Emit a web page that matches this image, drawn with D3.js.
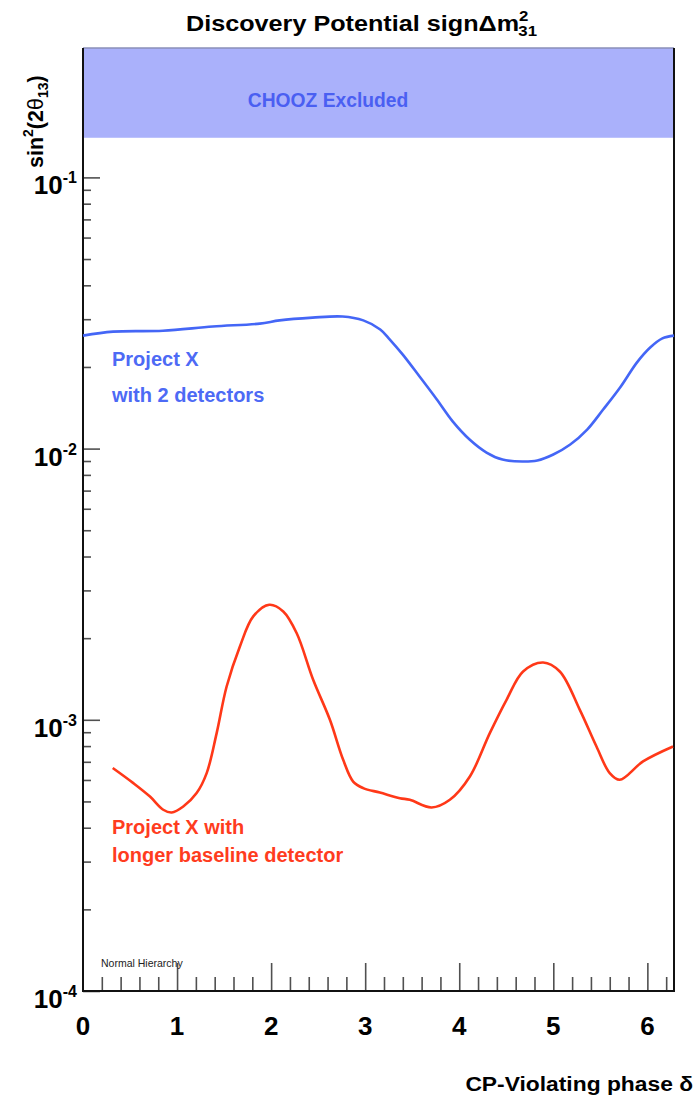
<!DOCTYPE html>
<html>
<head>
<meta charset="utf-8">
<script src="https://cdn.jsdelivr.net/npm/d3@7"></script>
<style>
  body { margin: 0; background: #fff; }
  svg { display: block; font-family: "Liberation Sans", Arial, Helvetica, sans-serif; }
</style>
</head>
<body>
<div id="chart"></div>
<script>
// Project X with 2 detectors (blue)
const deltaBlue = [0.00, 0.32, 0.85, 1.38, 1.88, 2.09, 2.44, 2.76, 2.98, 3.16, 3.26, 3.40, 3.58, 3.76, 3.93,
    4.11, 4.29, 4.46, 4.67, 4.83, 5.00, 5.18, 5.36, 5.53, 5.71, 5.89, 6.03, 6.16, 6.283];
const sinBlue = [0.0261, 0.0270, 0.0272, 0.0282, 0.0289, 0.0297, 0.0304, 0.0307, 0.0297, 0.0275, 0.0253, 0.0222, 0.0184, 0.0152, 0.0126,
    0.0108, 0.00967, 0.00911, 0.00896, 0.00904, 0.00951, 0.01035, 0.01175, 0.01393, 0.0168, 0.0208, 0.0236, 0.0255, 0.0261];

// Project X with longer baseline detector (red)
const deltaRed = [0.316, 0.535, 0.712, 0.853, 0.943, 1.066, 1.208, 1.315, 1.421, 1.527, 1.668, 1.81, 1.98, 2.129, 2.271,
    2.447, 2.625, 2.766, 2.872, 2.979, 3.156, 3.369, 3.475, 3.706, 3.90, 4.113, 4.325, 4.503, 4.679, 4.892,
    5.069, 5.282, 5.459, 5.60, 5.706, 5.954, 6.273];
const sinRed = [6.64e-4, 5.84e-4, 5.21e-4, 4.66e-4, 4.55e-4, 4.79e-4, 5.37e-4, 6.36e-4, 8.93e-4, 1.327e-3, 1.864e-3, 2.405e-3, 2.656e-3, 2.51e-3, 2.089e-3,
    1.405e-3, 1.0e-3, 7.12e-4, 5.92e-4, 5.60e-4, 5.39e-4, 5.14e-4, 5.07e-4, 4.75e-4, 5.07e-4, 6.18e-4, 8.93e-4, 1.185e-3, 1.507e-3, 1.627e-3,
    1.507e-3, 1.088e-3, 7.97e-4, 6.36e-4, 6.01e-4, 7.02e-4, 7.97e-4];

const chooz = [0.14, 0.3];
const xDomain = [0, 2 * Math.PI];
const yDomain = [1e-4, 0.3];
const xMajor = [1, 2, 3, 4, 5, 6];
const xLabels = [0, 1, 2, 3, 4, 5, 6];
const yMajorExp = [-4, -3, -2, -1];

const W = 698, H = 1107;
const m = { left: 83, right: 674, top: 48, bottom: 991 };

const svg = d3.select("#chart").append("svg")
    .attr("width", W)
    .attr("height", H);

const x = d3.scaleLinear().domain(xDomain).range([m.left, m.right]);
const y = d3.scaleLog().domain(yDomain).range([m.bottom, m.top]);

// minor ticks
const xMinor = d3.range(0.2, 6.3, 0.2).filter(v => Math.abs(v - Math.round(v)) > 0.01);
const yMinor = [];
yMajorExp.forEach(e => { for (let k = 2; k <= 9; k++) { const v = k * Math.pow(10, e); if (v < chooz[0]) yMinor.push(v); } });

const tickCol = "#505050";

svg.append("g")
    .attr("transform", `translate(0,${m.bottom})`)
    .call(d3.axisTop(x).tickValues(xMinor).tickSize(14).tickFormat(""))
    .call(g => g.select(".domain").remove())
    .selectAll("line").attr("stroke", tickCol).attr("stroke-width", 1.6);

svg.append("g")
    .attr("transform", `translate(0,${m.bottom})`)
    .call(d3.axisTop(x).tickValues(xMajor).tickSize(28).tickFormat(""))
    .call(g => g.select(".domain").remove())
    .selectAll("line").attr("stroke", tickCol).attr("stroke-width", 1.6);

svg.append("g")
    .attr("transform", `translate(${m.left},0)`)
    .call(d3.axisRight(y).tickValues(yMinor).tickSize(8).tickFormat(""))
    .call(g => g.select(".domain").remove())
    .selectAll("line").attr("stroke", tickCol).attr("stroke-width", 1.6);

svg.append("g")
    .attr("transform", `translate(${m.left},0)`)
    .call(d3.axisRight(y).tickValues(yMajorExp.map(e => Math.pow(10, e))).tickSize(17).tickFormat(""))
    .call(g => g.select(".domain").remove())
    .selectAll("line").attr("stroke", tickCol).attr("stroke-width", 1.6);

// CHOOZ excluded band
svg.append("rect")
    .attr("x", x(xDomain[0]))
    .attr("y", y(chooz[1]))
    .attr("width", x(xDomain[1]) - x(xDomain[0]))
    .attr("height", y(chooz[0]) - y(chooz[1]))
    .attr("fill", "#aab1fb");

svg.append("line")
    .attr("x1", m.left).attr("x2", m.right).attr("y1", m.top).attr("y2", m.top)
    .attr("stroke", "#8a8fb8").attr("stroke-width", 1.5);

svg.append("text")
    .attr("transform", "translate(328,107) scale(0.94,1)")
    .attr("text-anchor", "middle")
    .attr("font-size", 20.5).attr("font-weight", "bold")
    .attr("fill", "#4a5ff2")
    .text("CHOOZ Excluded");

// frame
svg.append("line").attr("x1", m.left).attr("x2", m.left).attr("y1", m.top).attr("y2", m.bottom)
    .attr("stroke", "#111").attr("stroke-width", 2);
svg.append("line").attr("x1", m.right).attr("x2", m.right).attr("y1", m.top).attr("y2", m.bottom)
    .attr("stroke", "#111").attr("stroke-width", 2);
svg.append("line").attr("x1", m.left - 1).attr("x2", m.right + 1).attr("y1", m.bottom).attr("y2", m.bottom)
    .attr("stroke", "#111").attr("stroke-width", 2);

// curves
const line = d3.line()
    .x(d => x(d[0]))
    .y(d => y(d[1]))
    .curve(d3.curveCatmullRom.alpha(0.5));

svg.append("path")
    .datum(d3.zip(deltaBlue, sinBlue))
    .attr("d", line)
    .attr("fill", "none")
    .attr("stroke", "#4466f6")
    .attr("stroke-width", 2.6);

svg.append("path")
    .datum(d3.zip(deltaRed, sinRed))
    .attr("d", line)
    .attr("fill", "none")
    .attr("stroke", "#ff3818")
    .attr("stroke-width", 2.6);

// tick labels
svg.selectAll(".xlab")
    .data(xLabels)
    .enter()
    .append("text")
    .attr("class", "xlab")
    .attr("x", d => x(d))
    .attr("y", 1035)
    .attr("text-anchor", "middle")
    .attr("font-size", 26).attr("font-weight", "bold")
    .text(d => d);

const ylab = svg.selectAll(".ylab")
    .data(yMajorExp)
    .enter()
    .append("text")
    .attr("class", "ylab")
    .attr("text-anchor", "end")
    .attr("font-weight", "bold")
    .attr("x", 77)
    .attr("y", d => y(Math.pow(10, d)) + 17);
ylab.append("tspan").attr("font-size", 26).text("10");
ylab.append("tspan").attr("font-size", 16).attr("dy", -11).text(d => d);

// legends
const blueCol = "#4d6af5", redCol = "#ff3c1e";
[["Project X", 366, blueCol], ["with 2 detectors", 402, blueCol],
 ["Project X with", 834, redCol], ["longer baseline detector", 862, redCol]].forEach(t => {
    svg.append("text").attr("x", 112).attr("y", t[1])
        .attr("font-size", 20).attr("font-weight", "bold").attr("fill", t[2])
        .text(t[0]);
});

svg.append("text").attr("x", 101).attr("y", 967)
    .attr("font-size", 10.5).attr("fill", "#222")
    .text("Normal Hierarchy");

// title
const title = svg.append("text")
    .attr("transform", "translate(186,31) scale(1.12,1)")
    .attr("font-size", 22.5).attr("font-weight", "bold");
title.append("tspan").text("Discovery Potential sign\u0394m");
title.append("tspan").attr("font-size", 15).attr("dy", -10).text("2");
title.append("tspan").attr("font-size", 15).attr("dx", -9).attr("dy", 15).text("31");

// axis titles
svg.append("text")
    .attr("transform", "translate(693,1091) scale(1.17,1)")
    .attr("text-anchor", "end")
    .attr("font-size", 19.5).attr("font-weight", "bold")
    .text("CP-Violating phase \u03b4");

const ytitle = svg.append("text")
    .attr("transform", "translate(43,168) rotate(-90)")
    .attr("font-size", 21.5).attr("font-weight", "bold");
ytitle.append("tspan").text("sin");
ytitle.append("tspan").attr("font-size", 14).attr("dy", -10).text("2");
ytitle.append("tspan").attr("dy", 10).text("(2");
ytitle.append("tspan").attr("font-weight", "normal").text("\u03b8");
ytitle.append("tspan").attr("font-size", 14).attr("dy", 5).text("13");
ytitle.append("tspan").attr("dy", -5).text(")");
</script>
</body>
</html>
